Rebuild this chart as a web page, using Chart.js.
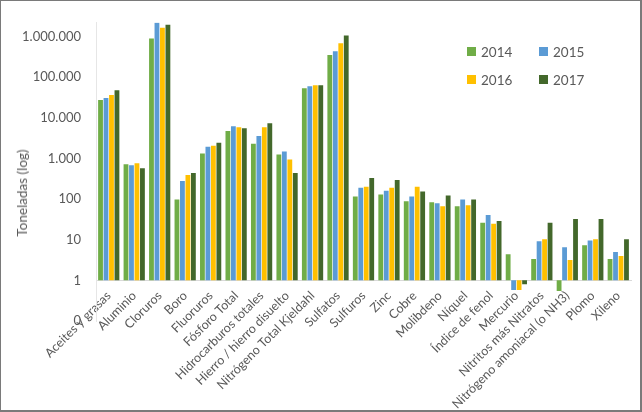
<!DOCTYPE html>
<html>
<head>
<meta charset="utf-8">
<script src="https://cdn.jsdelivr.net/npm/chart.js@4/dist/chart.umd.min.js"></script>
<style>
  html, body { margin: 0; padding: 0; background: #fff; }
  #wrap { position: relative; width: 642px; height: 412px; font-family: Lato, sans-serif; color: #595959; }
  #chart { position: absolute; left: 0; top: 0; }
  #frame { position: absolute; left: 0; top: 0; width: 642px; height: 412px; box-sizing: border-box;
           border: 1px solid #7a7a7a; border-right-width: 2px; border-bottom-width: 2px; pointer-events: none; }
  #ytitle { position: absolute; left: 22px; top: 193px; transform: translate(-50%, -50%) rotate(-90deg);
            font-size: 13.5px; white-space: nowrap; }
  .lg { position: absolute; font-size: 13.5px; line-height: 14px; }
  .lg i { position: absolute; left: -14px; top: 2px; width: 9px; height: 9px; }
</style>
</head>
<body>
<div id="wrap">
  <canvas id="chart" width="642" height="412"></canvas>
  <div id="ytitle">Toneladas (log)</div>
  <div id="legend"></div>
  <div id="frame"></div>
</div>
<script>
const CATEGORIES = [
  'Aceites y grasas', 'Aluminio', 'Cloruros', 'Boro', 'Fluoruros', 'Fósforo Total',
  'Hidrocarburos totales', 'Hierro / hierro disuelto', 'Nitrógeno Total Kjeldahl', 'Sulfatos',
  'Sulfuros', 'Zinc', 'Cobre', 'Molibdeno', 'Níquel', 'Índice de fenol', 'Mercurio',
  'Nitritos más Nitratos', 'Nitrógeno amoniacal (o NH3)', 'Plomo', 'Xileno'
];

const YEARS = ['2014', '2015', '2016', '2017'];

const V2014 = [27500, 717, 895000, 98, 1318, 4700, 2290, 1250, 53400, 350000, 116, 129, 88, 83, 67, 26, 4.4, 3.37, 0.545, 7.3, 3.37];
const V2015 = [30700, 679, 2200000, 280, 1940, 6190, 3560, 1470, 59700, 436000, 190, 161, 116, 79, 98, 40.5, 0.575, 9.1, 6.5, 9.6, 4.97];
const V2016 = [36300, 759, 1640000, 391, 2050, 5860, 5860, 946, 63000, 679000, 201, 190, 201, 67, 70, 24.7, 0.575, 10.2, 3.19, 10.2, 3.98];
const V2017 = [47800, 575, 1940000, 436, 2420, 5540, 7310, 436, 63000, 1057000, 331, 296, 153, 122, 98, 29, 0.8, 26, 32.5, 32.5, 10.2];

const Y_TICKS = [0.1, 1, 10, 100, 1000, 10000, 100000, 1000000];

const COLORS = ['#70ad47', '#5b9bd5', '#ffc000', '#43682b'];
const TEXT = '#595959';

function fmt(v) {
  if (v < 1) return '0';
  return String(Math.round(v)).replace(/\B(?=(\d{3})+(?!\d))/g, '.');
}

// legend (2 x 2, top right inside the plot)
const legendPos = [[481, 45], [553, 45], [481, 73], [553, 73]];
document.getElementById('legend').innerHTML = YEARS.map((y, i) =>
  `<div class="lg" style="left:${legendPos[i][0]}px;top:${legendPos[i][1]}px"><i style="background:${COLORS[i]}"></i>${y}</div>`
).join('');

const series = [V2014, V2015, V2016, V2017];

new Chart(document.getElementById('chart'), {
  type: 'bar',
  data: {
    labels: CATEGORIES,
    datasets: series.map((vals, i) => ({
      label: YEARS[i],
      data: vals,
      backgroundColor: COLORS[i],
      base: 1,
      categoryPercentage: 0.86,
      barPercentage: 0.88
    }))
  },
  options: {
    responsive: false,
    animation: false,
    layout: { padding: { top: 15, right: 11, bottom: 91, left: 0 } },
    plugins: {
      legend: { display: false },
      tooltip: { enabled: false }
    },
    scales: {
      x: {
        position: { y: 1 },
        grid: { display: false, drawTicks: false },
        border: { display: true, color: '#d9d9d9', width: 1 },
        ticks: {
          autoSkip: false,
          minRotation: 45,
          maxRotation: 45,
          padding: 8,
          color: TEXT,
          font: { family: 'Lato', size: 12.5 }
        }
      },
      y: {
        type: 'logarithmic',
        min: 0.1,
        max: 2170000,
        bounds: 'data',
        afterBuildTicks: (scale) => { scale.ticks = Y_TICKS.map(v => ({ value: v })); },
        afterFit: (scale) => { scale.width = 96; },
        grid: { display: false, drawTicks: false },
        border: { display: true, color: '#e6e6e6', width: 1 },
        ticks: {
          padding: 15,
          color: TEXT,
          font: { family: 'Lato', size: 13 },
          callback: (v) => fmt(v)
        }
      }
    }
  }
});
</script>
</body>
</html>
